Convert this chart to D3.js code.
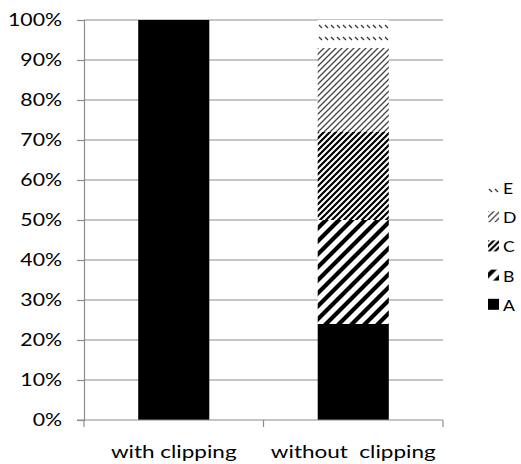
<!DOCTYPE html>
<html>
<head>
<meta charset="utf-8">
<script src="https://cdn.jsdelivr.net/npm/d3@7"></script>
<style>
  html, body { margin: 0; padding: 0; background: #fff; }
  svg { display: block; }
  text { font-family: Lato, "Open Sans", sans-serif; fill: #000; }
</style>
</head>
<body>
<svg id="chart" width="521" height="464"></svg>
<script>
// Categories and stacked shares (percent of each bar)
const categories = ["with clipping", "without  clipping"];
const seriesNames = ["A", "B", "C", "D", "E"];
const seriesA = [100, 24];
const seriesB = [0, 26];
const seriesC = [0, 22];
const seriesD = [0, 21];
const seriesE = [0, 7];
const tickValues = [0, 10, 20, 30, 40, 50, 60, 70, 80, 90, 100];

const seriesValues = [seriesA, seriesB, seriesC, seriesD, seriesE];
const rows = categories.map((c, i) => {
  const r = { category: c };
  seriesNames.forEach((s, k) => { r[s] = seriesValues[k][i]; });
  return r;
});

const svg = d3.select("#chart");
const margin = { left: 84, right: 78, top: 20, bottom: 44 };
const W = 521, H = 464;
const textStretch = 1.25; // wide letterforms

const x = d3.scaleBand()
  .domain(categories)
  .range([margin.left, W - margin.right])
  .paddingInner(0.604)
  .paddingOuter(0.302);

const y = d3.scaleLinear()
  .domain([0, 100])
  .range([H - margin.bottom, margin.top]);

// Fill patterns for the stacked segments
const defs = svg.append("defs");
function diagPattern(id, p, sw, color) {
  const pat = defs.append("pattern")
    .attr("id", id)
    .attr("patternUnits", "userSpaceOnUse")
    .attr("width", p).attr("height", p);
  pat.append("rect").attr("width", p).attr("height", p).attr("fill", "#fff");
  pat.append("path")
    .attr("d", `M0,${p} L${p},0 M${-p / 2},${p / 2} L${p / 2},${-p / 2} M${p / 2},${p * 1.5} L${p * 1.5},${p / 2}`)
    .attr("stroke", color)
    .attr("stroke-width", sw);
}
diagPattern("pat-B", 13, 4.2, "#000");
diagPattern("pat-C", 6, 2.2, "#000");
diagPattern("pat-D", 6, 1.3, "#444");
{
  const pat = defs.append("pattern")
    .attr("id", "pat-E")
    .attr("patternUnits", "userSpaceOnUse")
    .attr("width", 6).attr("height", 12);
  pat.append("rect").attr("width", 6).attr("height", 12).attr("fill", "#fff");
  pat.append("path")
    .attr("d", "M1,1 L4,4")
    .attr("stroke", "#333")
    .attr("stroke-width", 1.3);
}
const fills = { A: "#000", B: "url(#pat-B)", C: "url(#pat-C)", D: "url(#pat-D)", E: "url(#pat-E)" };

// Gridlines
svg.append("g")
  .selectAll("line")
  .data(tickValues.filter(t => t > 0))
  .join("line")
  .attr("x1", margin.left).attr("x2", W - margin.right)
  .attr("y1", d => y(d)).attr("y2", d => y(d))
  .attr("stroke", "#8c8c8c").attr("stroke-width", 1.2);

// Y axis
const yAxis = svg.append("g")
  .attr("transform", `translate(${margin.left},0)`)
  .call(d3.axisLeft(y).tickValues(tickValues).tickFormat(d => d + "%").tickSize(7));
yAxis.select(".domain").attr("stroke", "#8c8c8c").attr("stroke-width", 1.2);
yAxis.selectAll(".tick line").attr("stroke", "#8c8c8c").attr("stroke-width", 1.2);
yAxis.selectAll(".tick text")
  .attr("x", null)
  .attr("dy", "0.35em")
  .attr("transform", `translate(-22,0) scale(${textStretch},1)`)
  .attr("font-size", 17)
  .attr("font-family", "Lato, sans-serif")
  .attr("fill", "#000");

// Stacked bars
const stack = d3.stack().keys(seriesNames);
const layers = stack(rows);
svg.append("g")
  .selectAll("g")
  .data(layers)
  .join("g")
  .attr("fill", d => fills[d.key])
  .selectAll("rect")
  .data(d => d.filter(s => s[1] - s[0] > 0))
  .join("rect")
  .attr("x", d => x(d.data.category))
  .attr("width", x.bandwidth())
  .attr("y", d => y(d[1]))
  .attr("height", d => y(d[0]) - y(d[1]));

// X axis with boundary ticks between categories
const xg = svg.append("g").attr("transform", `translate(0,${y(0)})`);
xg.append("line")
  .attr("x1", margin.left - 7).attr("x2", W - margin.right)
  .attr("stroke", "#8c8c8c").attr("stroke-width", 1.2);
const bounds = [x.range()[0], ...categories.slice(1).map(c => x(c) - x.step() * x.paddingInner() / 2), x.range()[1]];
xg.selectAll("line.b")
  .data(bounds)
  .join("line")
  .attr("class", "b")
  .attr("x1", d => d).attr("x2", d => d)
  .attr("y1", 0).attr("y2", 7)
  .attr("stroke", "#8c8c8c").attr("stroke-width", 1.2);
xg.selectAll("text")
  .data(categories)
  .join("text")
  .attr("transform", d => `translate(${x(d) + x.bandwidth() / 2},38) scale(${textStretch},1)`)
  .attr("text-anchor", "middle")
  .attr("font-size", 18)
  .style("white-space", "pre")
  .text(d => d);

// Legend (E on top, A at bottom)
const legend = svg.append("g");
const legendItems = seriesNames.slice().reverse();
const lg = legend.selectAll("g")
  .data(legendItems)
  .join("g")
  .attr("transform", (d, i) => `translate(488,${188 + i * 29.2})`);
lg.append("rect")
  .attr("x", 0).attr("y", -6)
  .attr("width", 11).attr("height", 11)
  .attr("fill", d => fills[d]);
lg.append("text")
  .attr("transform", "translate(15,6) scale(1.1,1)")
  .attr("font-size", 16)
  .text(d => d);
</script>
</body>
</html>
